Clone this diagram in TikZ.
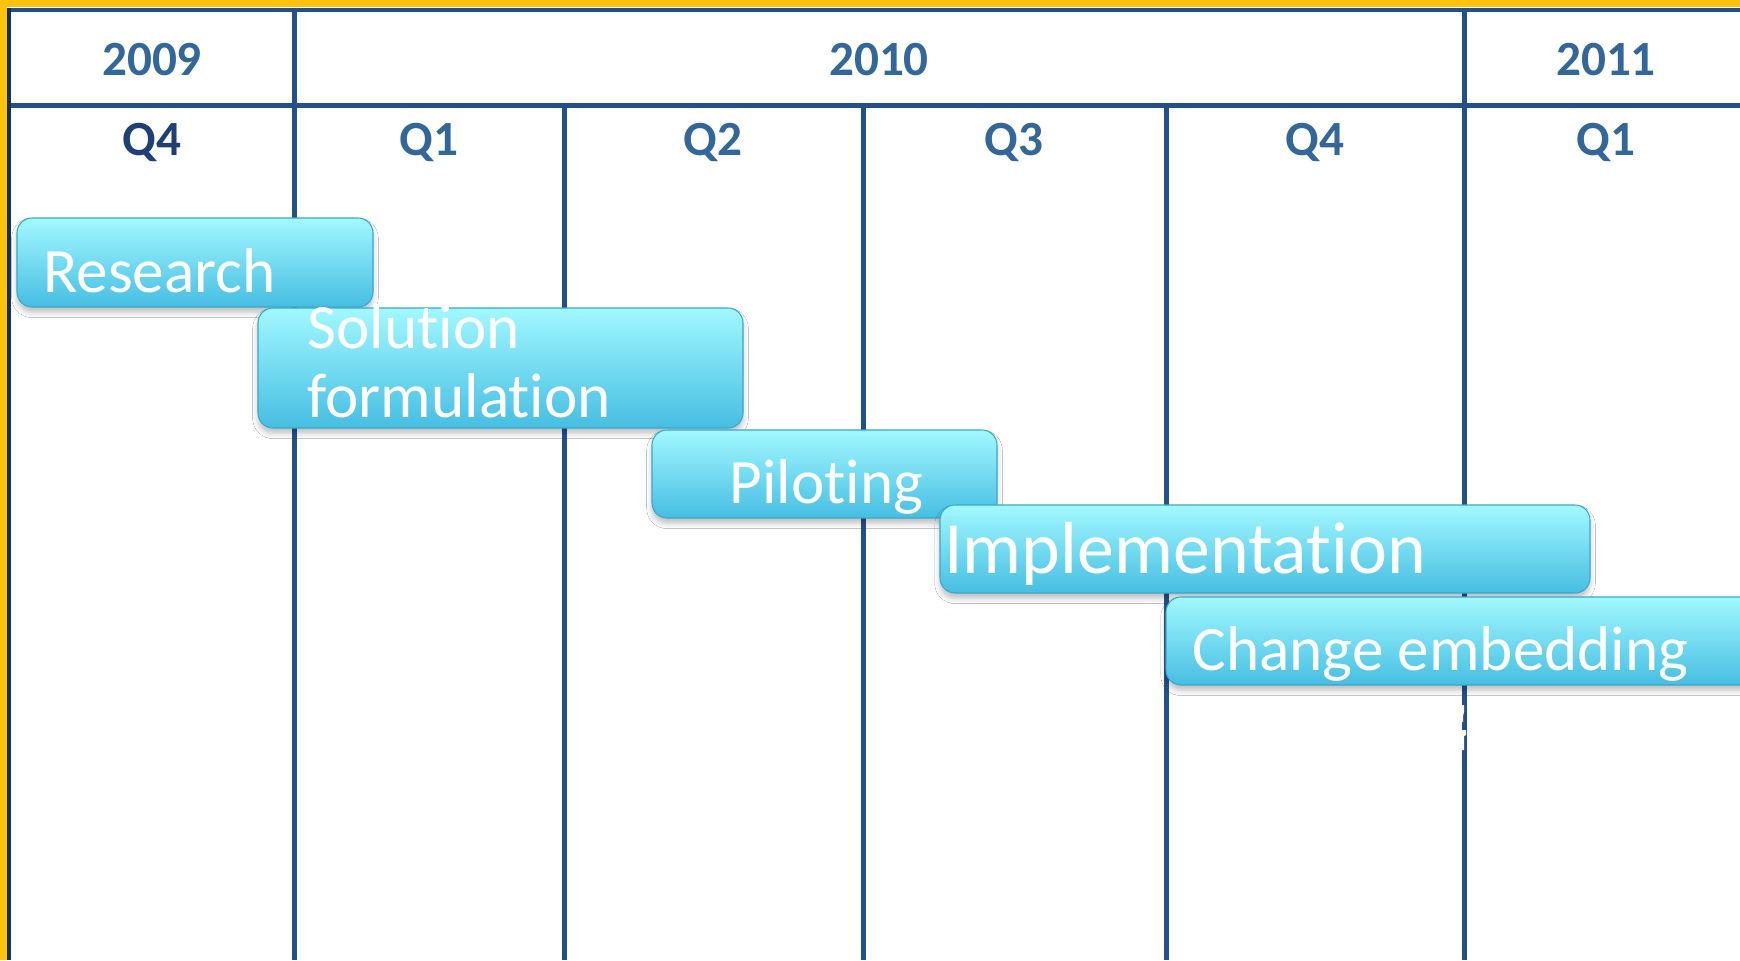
\documentclass[tikz,border=0pt]{standalone}
\usepackage{fontspec}
\setmainfont{Carlito}[Ligatures=NoCommon]
\usetikzlibrary{shadows.blur}

\definecolor{frameyellow}{HTML}{FFC20E}
\definecolor{gridblue}{HTML}{24508A}
\definecolor{leftblue}{HTML}{122F66}
\definecolor{yearblue}{HTML}{336699}
\definecolor{qdark}{HTML}{1F4077}
\definecolor{barlight}{RGB}{162,248,255}
\definecolor{barmid}{RGB}{118,222,244}
\definecolor{bardark}{RGB}{70,190,226}
\definecolor{baredge}{RGB}{58,168,200}

\begin{document}
\begin{tikzpicture}[x=0.02cm, y=-0.02cm,
  gridline/.style={gridblue, line width=0.1cm},
  yearlabel/.style={anchor=base, inner sep=0pt, yearblue, font=\fontsize{28}{30}\selectfont\bfseries},
  taskbar/.style={rounded corners=0.3cm, top color=barlight, middle color=barmid, bottom color=bardark,
    draw=baredge, line width=0.6pt,
    blur shadow={shadow xshift=0pt, shadow yshift=-3pt, shadow blur radius=3pt, shadow opacity=25}},
  tasklabel/.style={anchor=base west, inner sep=0pt, white, align=left, font=\fontsize{36}{39}\selectfont}]

\clip (0,0) rectangle (1740,960);
\fill[white] (0,0) rectangle (1740,960);

% frame
\fill[frameyellow] (0,0) rectangle (1740,7);
\fill[frameyellow] (0,0) rectangle (7,960);

% table grid
\draw[gridline] (7,10) -- (1740,10);
\draw[gridline] (7,105) -- (1740,105);
\draw[leftblue, line width=0.1cm] (9,8) -- (9,960);
\draw[gridline] (294,8) -- (294,960);
\draw[gridline] (564,105) -- (564,960);
\draw[gridline] (863,105) -- (863,960);
\draw[gridline] (1166,105) -- (1166,960);
\draw[gridline] (1464,8) -- (1464,960);

% years and quarters
\node[yearlabel] (y2009) at (152,75) {2009};
\node[yearlabel] (y2010) at (879,75) {2010};
\node[yearlabel] (y2011) at (1606,75) {2011};

\node[yearlabel, qdark] (q4a) at (152,155) {Q4};
\node[yearlabel] (q1a) at (429,155) {Q1};
\node[yearlabel] (q2a) at (713,155) {Q2};
\node[yearlabel] (q3a) at (1014,155) {Q3};
\node[yearlabel] (q4b) at (1315,155) {Q4};
\node[yearlabel] (q1b) at (1606,155) {Q1};

% phases
\path[taskbar] (17,218) rectangle (373,307);
\node[tasklabel] (research) at (43,292) {Research};

\path[taskbar] (258,308) rectangle (743,428);
\node[tasklabel] (solution) at (307,417) {Solution\\formulation};

\path[taskbar] (652,430) rectangle (997,518);
\node[tasklabel] (piloting) at (729,503) {Piloting};

\path[taskbar] (940,505) rectangle (1590,593);
\node[tasklabel, font=\fontsize{42}{45}\selectfont] (implementation) at (944,573) {Implementation};

\path[taskbar] (1166,597) rectangle (1790,685);
\node[tasklabel] (embedding) at (1192,670) {Change embedding};

% white speck on the last line
\fill[white] (1461,705) -- (1464,705) -- (1464,712) -- (1463,716) -- (1463,722) -- (1461,722) -- cycle;
\fill[white] (1461,730) -- (1466,730) -- (1466,735) -- (1464,736) -- (1464,750) -- (1461,750) -- cycle;

\end{tikzpicture}
\end{document}
